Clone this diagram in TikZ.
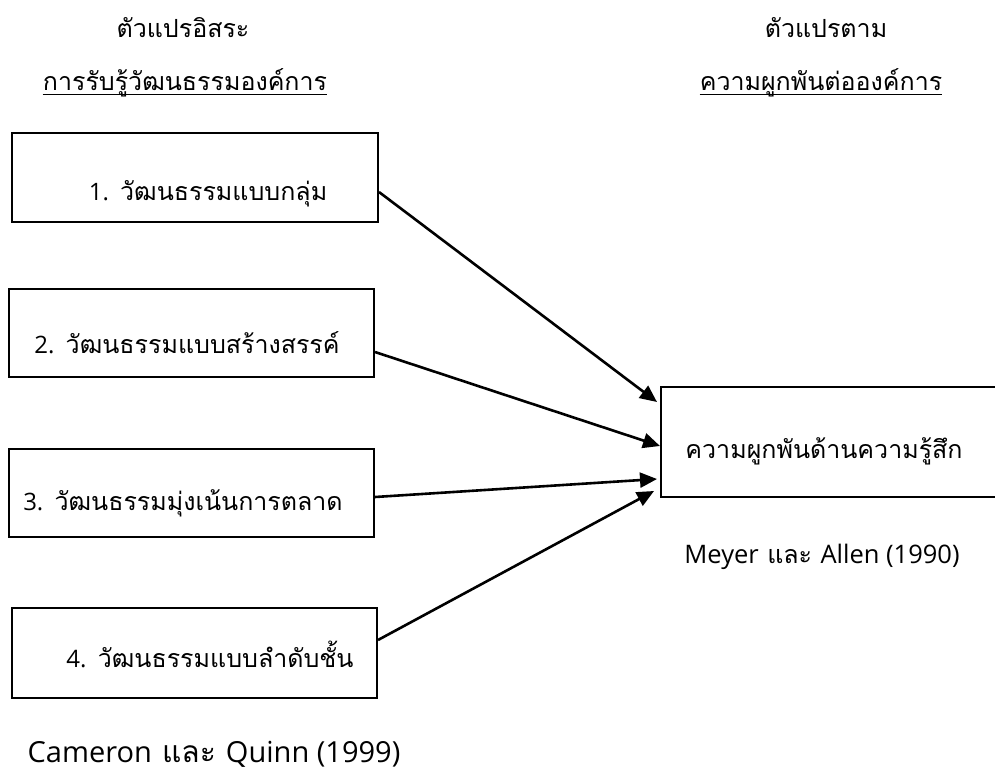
\documentclass[tikz,border=0pt]{standalone}
\usepackage{fontspec}
\setmainfont{Loma}[Script=Thai]
\newfontfamily\latin{Open Sans}
\newcommand\lat[1]{{\latin\fontsize{24}{28}\selectfont #1}}
\newcommand\latmid[1]{{\latin\fontsize{25.5}{29}\selectfont #1}}
\newcommand\latbig[1]{{\latin\fontsize{29}{32}\selectfont #1}}
\usetikzlibrary{arrows.meta}
\begin{document}
\begin{tikzpicture}[x=1pt,y=-1pt,
  box/.style={draw, line width=2pt, inner sep=0pt},
  arr/.style={line width=2.6pt, -{Triangle[length=17pt,width=15pt]}},
  lbl/.style={font=\fontsize{25}{28}\selectfont, anchor=base, inner sep=0pt},
  biglbl/.style={font=\fontsize{30}{33}\selectfont, anchor=base, inner sep=0pt},
  uline/.style={line width=1.5pt}]
\useasboundingbox (0,0) rectangle (995,774);
% headings
\node[lbl] (h1) at (183,37) {ตัวแปรอิสระ};
\node[lbl] (h2) at (185,90) {การรับรู้วัฒนธรรมองค์การ};
\draw[uline] ([yshift=-4.5pt]h2.base west) -- ([yshift=-4.5pt]h2.base east);
\node[lbl] (h3) at (826,37) {ตัวแปรตาม};
\node[lbl] (h4) at (821,90) {ความผูกพันต่อองค์การ};
\draw[uline] ([yshift=-4.5pt]h4.base west) -- ([yshift=-4.5pt]h4.base east);
% boxes
\node[box, minimum width=366pt, minimum height=89pt] (b1) at (195,177.5) {};
\node[box, minimum width=365pt, minimum height=88pt] (b2) at (191.5,333) {};
\node[box, minimum width=365pt, minimum height=88pt] (b3) at (191.5,493) {};
\node[box, minimum width=365pt, minimum height=90pt] (b4) at (194.5,653) {};
\node[box, minimum width=339pt, minimum height=110pt] (rb) at (830.5,442) {};
% box texts
\node[lbl] (t1) at (208,200) {\lat{1.} วัฒนธรรมแบบกลุ่ม};
\node[lbl] (t2) at (187,353) {\lat{2.} วัฒนธรรมแบบสร้างสรรค์};
\node[lbl] (t3) at (183,510) {\lat{3.} วัฒนธรรมมุ่งเน้นการตลาด};
\node[lbl] (t4) at (210,667) {\lat{4.} วัฒนธรรมแบบลำดับชั้น};
\node[lbl] (tr) at (824,458) {ความผูกพันด้านความรู้สึก};
% sources
\node[lbl] (s1) at (822,563) {\latmid{Meyer} และ \latmid{Allen (1990)}};
\node[biglbl] (s2) at (214,762) {\latbig{Cameron} และ \latbig{Quinn (1999)}};
% arrows
\draw[arr] ([yshift=-14.5pt]b1.east) -- ([xshift=-3pt,yshift=40pt]rb.west);
\draw[arr] ([yshift=-19pt]b2.east) -- ([yshift=-4pt]rb.west);
\draw[arr] ([yshift=-4pt]b3.east) -- ([xshift=-3pt,yshift=-37pt]rb.west);
\draw[arr] ([yshift=13pt]b4.east) -- ([xshift=-6pt,yshift=-49pt]rb.west);
\end{tikzpicture}
\end{document}
